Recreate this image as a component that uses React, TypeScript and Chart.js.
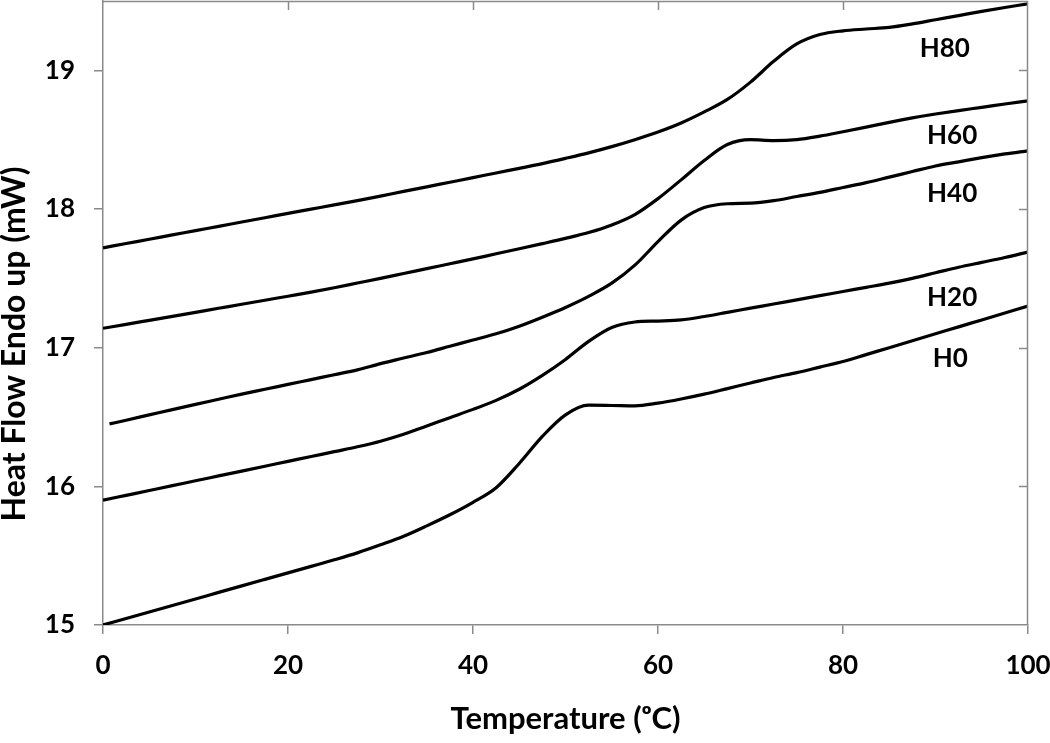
import React, { useEffect, useRef } from "react";
import { Chart, registerables } from "chart.js";

Chart.register(...registerables);

// Temperature grid (°C)
const temps = [0, 2.5, 5, 7.5, 10, 12.5, 15, 17.5, 20, 22.5, 25, 27.5, 30, 32.5, 35, 37.5, 40, 42.5, 45, 47.5, 50, 52.5, 55, 57.5, 60, 62.5, 65, 67.5, 70, 72.5, 75, 77.5, 80, 82.5, 85, 87.5, 90, 92.5, 95, 97.5, 100];
const tempsH40 = [0.7, 2.5, 5, 7.5, 10, 12.5, 15, 17.5, 20, 22.5, 25, 27.5, 30, 32.5, 35, 37.5, 40, 42.5, 45, 47.5, 50, 52.5, 55, 57.5, 60, 62.5, 65, 67.5, 70, 72.5, 75, 77.5, 80, 82.5, 85, 87.5, 90, 92.5, 95, 97.5, 100];

// Heat flow (mW)
const h0 = [15.00, 15.047, 15.094, 15.141, 15.188, 15.235, 15.282, 15.329, 15.376, 15.423, 15.47, 15.52, 15.578, 15.64, 15.715, 15.795, 15.885, 15.99, 16.165, 16.36, 16.515, 16.585, 16.583, 16.58, 16.60, 16.63, 16.665, 16.705, 16.745, 16.785, 16.82, 16.86, 16.90, 16.95, 17.00, 17.05, 17.10, 17.15, 17.20, 17.25, 17.30];
const h20 = [15.90, 15.935, 15.97, 16.005, 16.04, 16.075, 16.11, 16.145, 16.18, 16.215, 16.25, 16.285, 16.325, 16.375, 16.435, 16.495, 16.555, 16.62, 16.70, 16.80, 16.915, 17.045, 17.145, 17.185, 17.192, 17.20, 17.225, 17.255, 17.285, 17.315, 17.345, 17.375, 17.405, 17.435, 17.465, 17.50, 17.54, 17.58, 17.615, 17.65, 17.69];
const h40 = [16.45, 16.477, 16.515, 16.553, 16.591, 16.628, 16.665, 16.70, 16.735, 16.77, 16.805, 16.84, 16.885, 16.925, 16.965, 17.01, 17.055, 17.10, 17.155, 17.22, 17.29, 17.37, 17.465, 17.595, 17.765, 17.92, 18.01, 18.038, 18.042, 18.06, 18.09, 18.12, 18.155, 18.19, 18.23, 18.27, 18.31, 18.34, 18.37, 18.397, 18.42];
const h60 = [17.14, 17.168, 17.197, 17.226, 17.255, 17.284, 17.313, 17.342, 17.371, 17.40, 17.432, 17.466, 17.50, 17.535, 17.57, 17.605, 17.64, 17.677, 17.713, 17.75, 17.788, 17.83, 17.885, 17.96, 18.075, 18.21, 18.35, 18.465, 18.50, 18.493, 18.50, 18.525, 18.557, 18.59, 18.625, 18.657, 18.685, 18.71, 18.733, 18.757, 18.78];
const h80 = [17.72, 17.751, 17.782, 17.813, 17.844, 17.875, 17.906, 17.937, 17.968, 17.999, 18.03, 18.06, 18.093, 18.127, 18.16, 18.193, 18.226, 18.26, 18.293, 18.327, 18.365, 18.405, 18.45, 18.50, 18.555, 18.62, 18.70, 18.79, 18.915, 19.065, 19.19, 19.258, 19.285, 19.298, 19.31, 19.335, 19.365, 19.395, 19.425, 19.453, 19.48];

// Series labels and where they sit (data coordinates)
const seriesNames = ["H0", "H20", "H40", "H60", "H80"];
const labelX = [91.6, 91.8, 91.8, 91.8, 91.0];
const labelY = [16.92, 17.36, 18.11, 18.53, 19.16];

const xTitle = "Temperature (ᵒC)";
const yTitle = "Heat Flow Endo up (mW)";

const FONT = "Lato, 'Open Sans', sans-serif";
const AXIS_COLOR = "#8a8a8a";

const toPoints = (xs: number[], ys: number[]) => xs.map((x, i) => ({ x, y: ys[i] }));

const frameAndLabels = {
  id: "frameAndLabels",
  afterDraw(chart: any) {
    const { ctx, chartArea, scales } = chart;
    const xs = scales.x;
    const ys = scales.y;
    ctx.save();
    // top & right frame with inward ticks
    ctx.strokeStyle = AXIS_COLOR;
    ctx.lineWidth = 1.5;
    ctx.beginPath();
    ctx.moveTo(chartArea.left, chartArea.top + 0.5);
    ctx.lineTo(chartArea.right, chartArea.top + 0.5);
    ctx.moveTo(chartArea.right - 0.5, chartArea.top);
    ctx.lineTo(chartArea.right - 0.5, chartArea.bottom);
    xs.ticks.forEach((t: any) => {
      const px = Math.round(xs.getPixelForValue(t.value)) + 0.5;
      if (t.value > xs.min && t.value < xs.max) {
        ctx.moveTo(px, chartArea.top);
        ctx.lineTo(px, chartArea.top + 9);
      }
    });
    ys.ticks.forEach((t: any) => {
      const py = Math.round(ys.getPixelForValue(t.value)) + 0.5;
      if (t.value > ys.min && t.value < ys.max) {
        ctx.moveTo(chartArea.right, py);
        ctx.lineTo(chartArea.right - 9, py);
      }
    });
    ctx.stroke();

    // series labels
    ctx.fillStyle = "#000";
    ctx.font = `bold 26px ${FONT}`;
    ctx.textAlign = "center";
    ctx.textBaseline = "middle";
    seriesNames.forEach((n, i) => {
      ctx.fillText(n, xs.getPixelForValue(labelX[i]), ys.getPixelForValue(labelY[i]));
    });

    // y-axis title
    ctx.save();
    ctx.translate(15, (chartArea.top + chartArea.bottom) / 2 + 31);
    ctx.rotate(-Math.PI / 2);
    ctx.font = `bold 32px ${FONT}`;
    ctx.fillText(yTitle, 0, 0);
    ctx.restore();
    ctx.restore();
  },
};

export default function App() {
  const ref = useRef<HTMLCanvasElement | null>(null);
  useEffect(() => {
    if (!ref.current) return;
    const line = (data: { x: number; y: number }[]) => ({
      data,
      borderColor: "#000",
      backgroundColor: "#000",
      borderWidth: 3.2,
      pointRadius: 0,
      tension: 0.4,
      cubicInterpolationMode: "monotone" as const,
      fill: false,
    });
    const chart = new Chart(ref.current, {
      type: "line",
      data: {
        datasets: [
          { label: "H0", ...line(toPoints(temps, h0)) },
          { label: "H20", ...line(toPoints(temps, h20)) },
          { label: "H40", ...line(toPoints(tempsH40, h40)) },
          { label: "H60", ...line(toPoints(temps, h60)) },
          { label: "H80", ...line(toPoints(temps, h80)) },
        ],
      },
      options: {
        animation: false,
        responsive: false,
        layout: { padding: { left: 0, top: 1, right: 22, bottom: 0 } },
        plugins: { legend: { display: false }, tooltip: { enabled: false } },
        scales: {
          x: {
            type: "linear",
            min: 0,
            max: 100,
            afterFit: (axis: any) => {
              axis.height = 118;
              axis.paddingLeft = 0;
              axis.paddingRight = 0;
            },
            ticks: { stepSize: 20, color: "#000", font: { family: FONT, size: 26, weight: "bold" }, padding: 16 },
            grid: { drawOnChartArea: false, drawTicks: true, tickLength: 9, color: AXIS_COLOR, lineWidth: 1.5 },
            border: { display: true, color: AXIS_COLOR, width: 1.5 },
            title: { display: true, text: xTitle, color: "#000", font: { family: FONT, size: 31, weight: "bold", lineHeight: 1.2 }, padding: { top: 0, bottom: 5 } },
          },
          y: {
            type: "linear",
            min: 15,
            max: 19.5,
            afterFit: (axis: any) => {
              axis.width = 103;
              axis.paddingTop = 0;
              axis.paddingBottom = 0;
            },
            ticks: { stepSize: 1, includeBounds: false, color: "#000", font: { family: FONT, size: 26, weight: "bold" }, padding: 19 },
            grid: { drawOnChartArea: false, drawTicks: true, tickLength: 9, color: AXIS_COLOR, lineWidth: 1.5 },
            border: { display: true, color: AXIS_COLOR, width: 1.5 },
          },
        },
      },
      plugins: [frameAndLabels],
    });
    return () => chart.destroy();
  }, []);
  return (
    <div style={{ position: "absolute", left: 0, top: 0, width: 1050, height: 743, background: "#fff" }}>
      <canvas ref={ref} width={1050} height={743} />
    </div>
  );
}
